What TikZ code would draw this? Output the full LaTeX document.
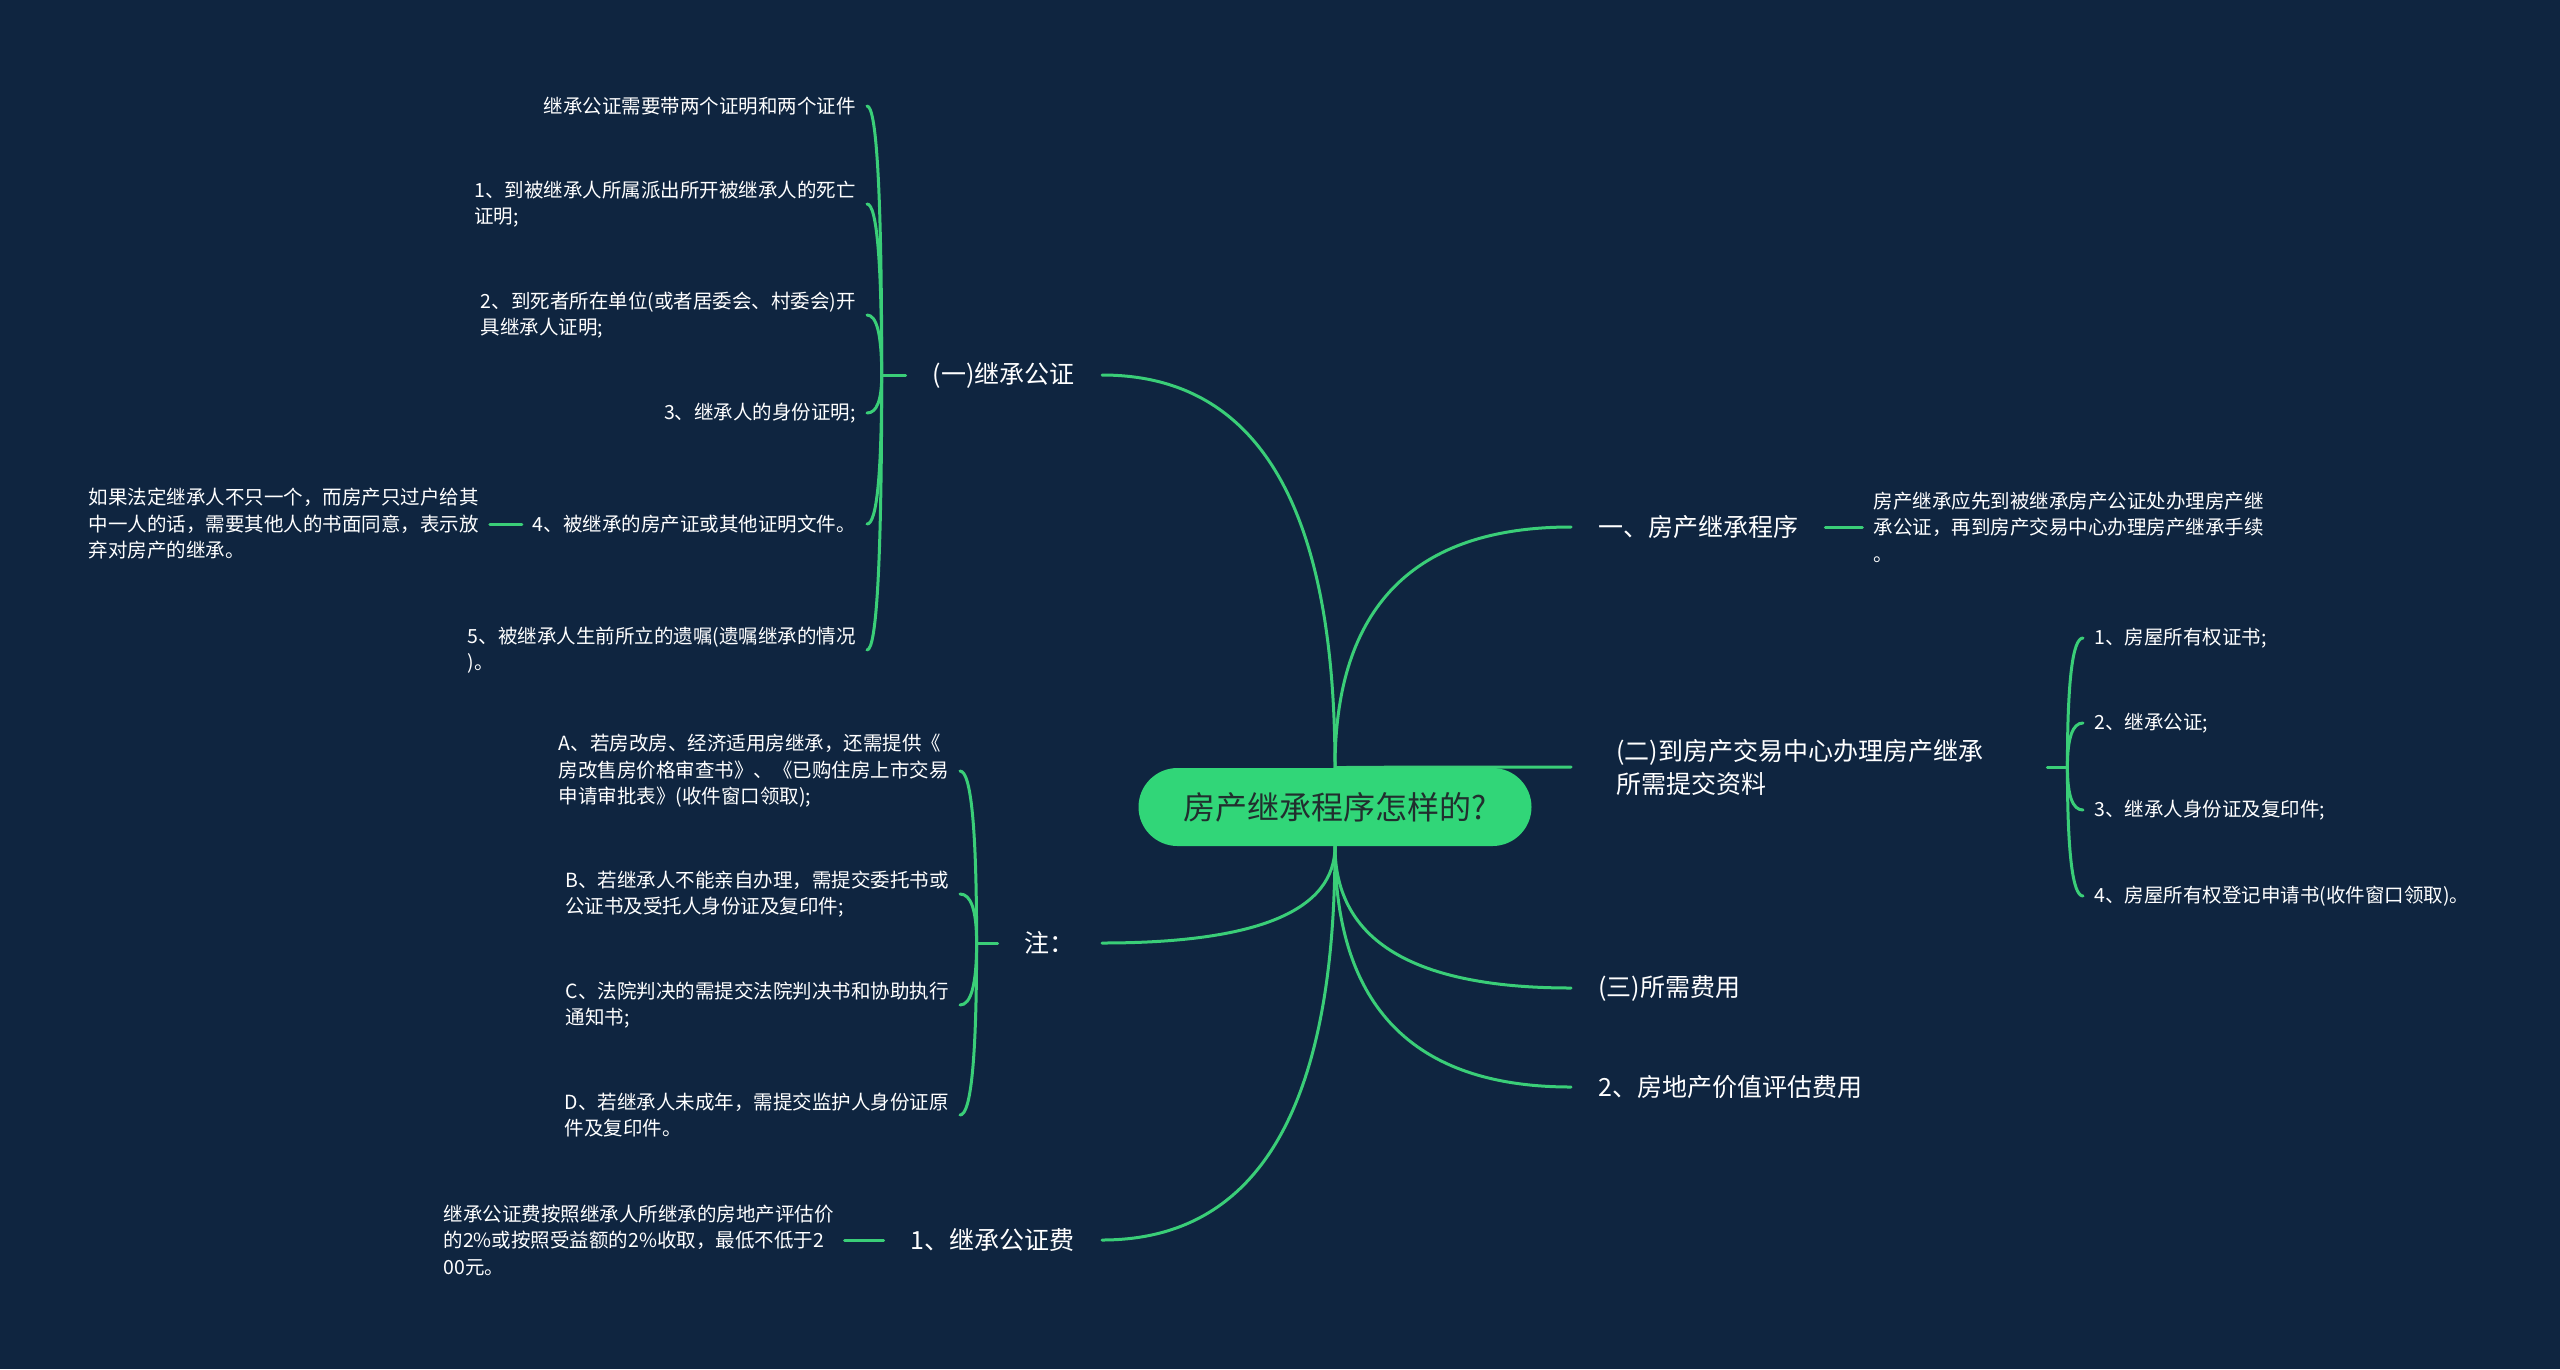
\documentclass[tikz,border=0pt]{standalone}
\usepackage{fontspec}
\newfontfamily\cjk{Noto Sans CJK SC}
\usetikzlibrary{calc,positioning}
\definecolor{mapnavy}{RGB}{15,37,64}
\definecolor{mapgreen}{RGB}{49,214,120}
\definecolor{linkgreen}{RGB}{58,206,120}
\definecolor{rootink}{RGB}{33,46,46}
\pgfdeclarelayer{back}
\pgfsetlayers{back,main}
\tikzset{
  root/.style={
    rectangle,
    rounded corners=39pt,
    fill=mapgreen,
    text=rootink,
    minimum width=393pt,
    minimum height=78pt,
    font=\cjk\fontsize{32}{38}\selectfont
  },
  topic/.style={
    text=white,
    inner xsep=27pt,
    inner ysep=4pt,
    align=left,
    font=\cjk\fontsize{25}{33}\selectfont
  },
  leaf/.style={
    text=white,
    inner xsep=11pt,
    inner ysep=3pt,
    align=left,
    font=\cjk\fontsize{19.5}{26.5}\selectfont
  },
  link/.style={
    draw=linkgreen,
    line width=3pt,
    line cap=round
  }
}
\newcommand{\twig}[2]{%
  \draw[link] (#1) .. controls ($(#1)!0.667!(#1 |- #2)$)
    and ($(#2)!0.667!(#1 |- #2)$) .. (#2);
}

\begin{document}
\begin{tikzpicture}[x=1pt,y=-1pt]
  \useasboundingbox (0,0) rectangle (2560,1369);
  \node[root] (root) at (1335,807) {房产继承程序怎样的?};
  % first level, left
  \node[topic, anchor=east] (gz) at (1102,375) {(一)继承公证};
  \node[topic, anchor=east] (zhu) at (1102,943) {注：};
  \node[topic, anchor=east] (fee) at (1102,1240) {1、继承公证费};
  % first level, right
  \node[topic, anchor=west] (proc) at (1571,527) {一、房产继承程序};
  \node[topic, anchor=west, text width=404pt] (docs) at (1589,767)
    {(二)到房产交易中心办理房产继承\\所需提交资料};
  \coordinate (docs-in) at ([xshift=-18pt]docs.west);
  \node[topic, anchor=west] (cost) at (1571,988) {(三)所需费用};
  \node[topic, anchor=west] (eval) at (1571,1087) {2、房地产价值评估费用};
  % leaves of (一)
  \foreach \id/\y/\txt in {
      a/106/{继承公证需要带两个证明和两个证件},
      b/204/{1、到被继承人所属派出所开被继承人的死亡\\证明;},
      c/315/{2、到死者所在单位(或者居委会、村委会)开\\具继承人证明;},
      d/413/{3、继承人的身份证明;},
      e/524/{4、被继承的房产证或其他证明文件。},
      f/650/{5、被继承人生前所立的遗嘱(遗嘱继承的情况\\)。}} {
    \node[leaf, anchor=east] (gz-\id) at (867,\y) {\txt};
  }
  \node[leaf, left=32pt of gz-e] (gz-e-note)
    {如果法定继承人不只一个，而房产只过户给其\\中一人的话，需要其他人的书面同意，表示放\\弃对房产的继承。};
  % leaves of 注
  \foreach \id/\y/\txt in {
      a/771/{A、若房改房、经济适用房继承，还需提供《\\房改售房价格审查书》、《已购住房上市交易\\申请审批表》(收件窗口领取);},
      b/894/{B、若继承人不能亲自办理，需提交委托书或\\公证书及受托人身份证及复印件;},
      c/1005/{C、法院判决的需提交法院判决书和协助执行\\通知书;},
      d/1115/{D、若继承人未成年，需提交监护人身份证原\\件及复印件。}} {
    \node[leaf, anchor=east] (zhu-\id) at (960,\y) {\txt};
  }
  \node[leaf, left=39pt of fee] (fee-note)
    {继承公证费按照继承人所继承的房地产评估价\\的2\%或按照受益额的2\%收取，最低不低于2\\00元。};
  \node[leaf, right=37pt of proc] (proc-note)
    {房产继承应先到被继承房产公证处办理房产继\\承公证，再到房产交易中心办理房产继承手续\\。};
  % leaves of (二)
  \foreach \id/\y/\txt in {
      a/638/{1、房屋所有权证书;},
      b/723/{2、继承公证;},
      c/810/{3、继承人身份证及复印件;},
      d/896/{4、房屋所有权登记申请书(收件窗口领取)。}} {
    \node[leaf, anchor=west] (docs-\id) at (2083,\y) {\txt};
  }

  \begin{pgfonlayer}{back}
    \fill[mapnavy] (0,0) rectangle (2560,1369);
    % root to first level
    \twig{root.north}{gz.east}
    \twig{root.north}{proc.west}
    \twig{root.north}{docs-in}
    \twig{root.south}{zhu.east}
    \twig{root.south}{fee.east}
    \twig{root.south}{cost.west}
    \twig{root.south}{eval.west}
    % brackets
    \coordinate (gz-s) at ([xshift=-24pt]gz.west);
    \draw[link] (gz.west) -- (gz-s);
    \foreach \id in {a,...,f} {\twig{gz-s}{gz-\id.east}}
    \coordinate (zhu-s) at ([xshift=-21pt]zhu.west);
    \draw[link] (zhu.west) -- (zhu-s);
    \foreach \id in {a,...,d} {\twig{zhu-s}{zhu-\id.east}}
    \coordinate (docs-s) at ([xshift=20pt]docs.east);
    \draw[link] (docs.east) -- (docs-s);
    \foreach \id in {a,...,d} {\twig{docs-s}{docs-\id.west}}
    % single notes
    \draw[link] (gz-e.west) -- (gz-e-note.east);
    \draw[link] (fee.west) -- (fee-note.east);
    \draw[link] (proc.east) -- (proc-note.west);
  \end{pgfonlayer}
\end{tikzpicture}
\end{document}
